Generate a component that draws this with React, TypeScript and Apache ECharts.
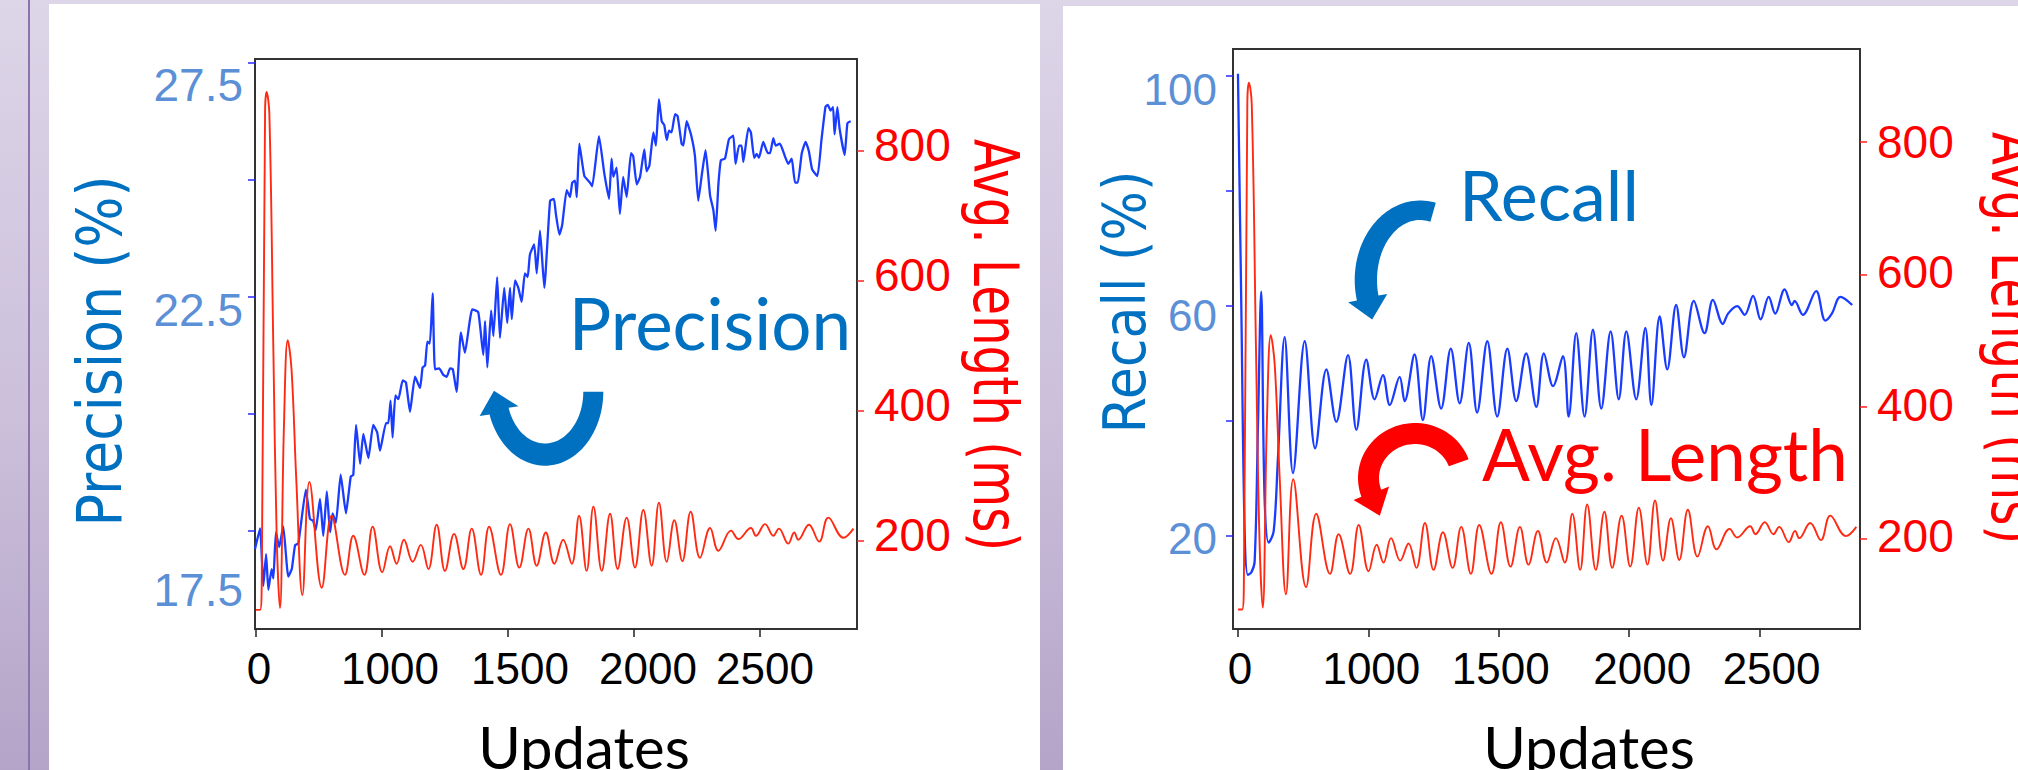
import React, { useEffect, useRef } from 'react';
import * as echarts from 'echarts';

// ---------- data ----------
const xTickValues = [500, 1000, 1500, 2000, 2500];
const xTickLabels = ['0', '1000', '1500', '2000', '2500'];
const precisionTicks = [17.5, 20, 22.5, 25, 27.5];
const precisionLabels = [17.5, 22.5, 27.5];
const recallTicks = [20, 40, 60, 80, 100];
const recallLabels = [20, 60, 100];
const lengthTicks = [200, 400, 600, 800];

// Avg. Length (ms) vs Updates (same run in both panels)
const avgLength: [number, number][] = [
  [500, 93], [516, 93], [523, 150], [536, 861], [542, 890], [553, 856], [569, 491], [582, 207], [595, 96],
  [611, 378], [626, 508], [641, 463], [660, 292], [684, 116], [712, 290], [761, 127], [800, 238], [853, 147],
  [886, 207], [930, 147], [963, 221], [1001, 151], [1032, 191], [1058, 164], [1087, 201], [1122, 167],
  [1154, 193], [1184, 156], [1217, 224], [1250, 153], [1286, 210], [1323, 156], [1356, 218], [1393, 147],
  [1425, 221], [1472, 147], [1508, 225], [1545, 158], [1581, 218], [1614, 161], [1650, 212], [1684, 164],
  [1719, 201], [1753, 164], [1782, 238], [1812, 153], [1839, 252], [1872, 153], [1905, 241], [1935, 156],
  [1971, 235], [2004, 158], [2037, 247], [2070, 161], [2099, 258], [2130, 167], [2160, 231], [2192, 168],
  [2225, 244], [2262, 173], [2302, 219], [2335, 184], [2385, 215], [2414, 202], [2464, 219], [2484, 207],
  [2520, 225], [2553, 207], [2575, 218], [2612, 195], [2636, 212], [2652, 201], [2694, 224], [2735, 198],
  [2771, 235], [2831, 204], [2871, 218],
];

// Precision (%) vs Updates
const precision: [number, number][] = [
  [496, 17.1], [516, 17.54], [529, 16.31], [540, 16.99], [549, 16.23], [562, 16.67], [569, 16.47], [579, 17.46],
  [592, 17.14], [608, 17.58], [628, 16.51], [642, 16.67], [655, 17.18], [668, 17.22], [698, 18.37], [714, 17.74],
  [727, 17.7], [737, 17.5], [754, 18.17], [767, 17.38], [781, 18.33], [794, 17.46], [804, 17.86], [817, 17.66],
  [836, 18.69], [857, 17.86], [876, 18.65], [886, 18.68], [897, 19.75], [913, 18.92], [926, 19.56], [946, 19.04],
  [965, 19.75], [981, 19.59], [992, 19.2], [1016, 19.79], [1025, 19.79], [1034, 20.27], [1042, 19.48], [1053, 20.38],
  [1065, 20.3], [1082, 20.7], [1095, 20.66], [1111, 20.03], [1131, 20.78], [1151, 20.54], [1161, 20.98], [1171, 21.02],
  [1180, 21.53], [1190, 21.49], [1201, 22.56], [1210, 20.94], [1227, 20.96], [1243, 20.82], [1257, 20.78], [1270, 20.96],
  [1281, 20.94], [1296, 20.46], [1313, 21.73], [1329, 21.29], [1358, 22.22], [1382, 22.16], [1402, 21.25], [1409, 21.97],
  [1418, 20.98], [1433, 22.2], [1442, 21.65], [1457, 22.91], [1468, 21.61], [1485, 22.68], [1497, 21.93], [1508, 22.68],
  [1515, 22.01], [1528, 22.84], [1541, 22.68], [1554, 22.38], [1567, 22.99], [1578, 22.91], [1587, 23.39], [1604, 23.61],
  [1614, 22.99], [1627, 23.9], [1644, 22.68], [1667, 24.54], [1682, 24.58], [1690, 24.26], [1704, 23.82], [1715, 24.02],
  [1733, 24.77], [1746, 24.62], [1755, 24.93], [1766, 24.97], [1773, 24.62], [1783, 25.76], [1803, 25.07], [1825, 24.93],
  [1834, 24.85], [1861, 25.92], [1882, 25.13], [1901, 24.58], [1911, 25.44], [1918, 25.05], [1931, 25.25], [1944, 24.26],
  [1957, 25.05], [1971, 24.62], [1988, 25.56], [1997, 25.49], [2011, 24.89], [2024, 25.05], [2041, 25.64], [2050, 25.17],
  [2061, 25.29], [2077, 26.0], [2087, 25.72], [2099, 26.71], [2110, 26.24], [2120, 26.16], [2130, 25.84], [2139, 26.04],
  [2149, 26.0], [2163, 26.39], [2173, 26.35], [2189, 25.76], [2196, 25.72], [2209, 26.24], [2226, 25.96], [2242, 25.49],
  [2255, 24.54], [2269, 25.09], [2284, 25.62], [2302, 24.65], [2315, 24.34], [2324, 23.9], [2335, 24.89], [2345, 25.41],
  [2361, 25.44], [2377, 25.86], [2394, 25.93], [2403, 25.33], [2417, 25.72], [2427, 25.72], [2434, 25.37], [2454, 26.09],
  [2464, 26.0], [2477, 25.46], [2487, 25.54], [2496, 25.46], [2513, 25.8], [2531, 25.56], [2540, 25.56], [2553, 25.88],
  [2562, 25.72], [2579, 25.76], [2599, 25.49], [2612, 25.33], [2626, 25.44], [2639, 24.93], [2650, 24.93], [2666, 25.56],
  [2681, 25.8], [2694, 25.6], [2707, 25.21], [2728, 25.07], [2744, 25.84], [2760, 26.55], [2769, 26.59], [2780, 26.47],
  [2790, 26.54], [2796, 25.96], [2807, 26.54], [2816, 26.08], [2836, 25.52], [2847, 26.2], [2860, 26.24],
];

// Recall (%) vs Updates
const recall: [number, number][] = [
  [500, 100.3], [513, 59.4], [526, 20.1], [538, 13.2], [551, 13.6], [564, 15.5], [577, 39.8], [589, 62.4],
  [602, 26.7], [618, 18.8], [637, 20.8], [653, 33.2], [679, 54.5], [711, 30.9], [756, 53.8], [796, 35.2],
  [839, 48.9], [877, 39.8], [922, 51.4], [954, 38.4], [992, 50.6], [1024, 43.7], [1056, 47.9], [1082, 42.7],
  [1120, 47.6], [1139, 43.4], [1177, 51.5], [1209, 40.1], [1241, 51.2], [1279, 42.1], [1316, 52.5], [1350, 43.0],
  [1385, 53.5], [1417, 41.4], [1456, 53.8], [1494, 40.7], [1533, 52.5], [1567, 43.4], [1605, 51.7], [1644, 42.4],
  [1673, 51.7], [1708, 46.0], [1746, 51.2], [1768, 40.7], [1797, 55.2], [1829, 40.7], [1861, 55.8], [1893, 42.1],
  [1929, 55.5], [1960, 43.7], [1989, 55.5], [2027, 43.7], [2062, 56.1], [2085, 42.7], [2117, 58.1], [2146, 48.9],
  [2180, 60.1], [2210, 51.0], [2248, 60.8], [2289, 55.2], [2321, 61.0], [2359, 56.8], [2379, 58.6], [2414, 59.9],
  [2443, 58.4], [2475, 61.7], [2504, 57.6], [2535, 61.5], [2560, 58.6], [2596, 62.8], [2624, 60.1], [2634, 60.8],
  [2666, 58.4], [2717, 62.5], [2752, 57.4], [2777, 58.6], [2810, 61.5], [2855, 60.1],
];

// ---------- styles ----------
const NUM_FONT = 'Liberation Sans';
const TITLE_FONT = 'DejaVu Sans';
const NOTE_FONT = 'Lato';
const BLUE_TXT = '#0070C0';
const RED_TXT = '#FF0000';
const LIGHT_BLUE = '#5b8fd6';
const LINE_BLUE = '#1a3cff';
const LINE_RED = '#ff2a12';

function xLabel(shifts: number[]) {
  const rich: Record<string, any> = {};
  shifts.forEach((s, i) => {
    rich['n' + i] = { padding: [0, 0, 0, 2 * s], fontSize: 44, color: '#000', fontFamily: NUM_FONT };
  });
  return {
    show: true,
    customValues: xTickValues,
    margin: 17,
    fontSize: 44,
    color: '#000',
    fontFamily: NUM_FONT,
    formatter: (v: number) => {
      const i = xTickValues.indexOf(v);
      return '{n' + i + '|' + (xTickLabels[i] ?? '') + '}';
    },
    rich,
  };
}

function yLabel(values: number[], padTop: number[], padBottom: number[], size: number, color: string, margin: number) {
  const rich: Record<string, any> = {};
  values.forEach((_, i) => {
    rich['n' + i] = { padding: [padTop[i] || 0, 0, padBottom[i] || 0, 0], fontSize: size, color, fontFamily: NUM_FONT };
  });
  return {
    show: true,
    customValues: values,
    margin,
    fontSize: size,
    color,
    fontFamily: NUM_FONT,
    formatter: (v: number) => {
      const i = values.indexOf(v);
      return '{n' + i + '|' + String(values[i]) + '}';
    },
    rich,
  };
}

function arrowPoints(
  cx: number, cy: number, rxO: number, ryO: number, rxI: number, ryI: number,
  a0: number, a1: number, headLen: number, headHalf: number,
) {
  const deg = Math.PI / 180;
  const steps = 48;
  const outer: number[][] = [];
  const inner: number[][] = [];
  for (let i = 0; i <= steps; i++) {
    const a = (a0 + ((a1 - a0) * i) / steps) * deg;
    outer.push([cx + rxO * Math.cos(a), cy + ryO * Math.sin(a)]);
    inner.push([cx + rxI * Math.cos(a), cy + ryI * Math.sin(a)]);
  }
  const a = a1 * deg;
  const dir = Math.sign(a1 - a0);
  const rxM = (rxO + rxI) / 2;
  const ryM = (ryO + ryI) / 2;
  const mx = cx + rxM * Math.cos(a);
  const my = cy + ryM * Math.sin(a);
  let tx = -rxM * Math.sin(a) * dir;
  let ty = ryM * Math.cos(a) * dir;
  const tl = Math.hypot(tx, ty);
  tx /= tl;
  ty /= tl;
  const nx = -ty;
  const ny = tx;
  const tip = [mx + tx * headLen, my + ty * headLen];
  const c1 = [mx + nx * headHalf, my + ny * headHalf];
  const c2 = [mx - nx * headHalf, my - ny * headHalf];
  const oEnd = outer[outer.length - 1];
  const d1 = Math.hypot(c1[0] - oEnd[0], c1[1] - oEnd[1]);
  const d2 = Math.hypot(c2[0] - oEnd[0], c2[1] - oEnd[1]);
  const co = d1 < d2 ? c1 : c2;
  const ci = d1 < d2 ? c2 : c1;
  return [...outer, co, tip, ci, ...inner.reverse()];
}

function rotText(text: string, x: number, y: number, rot: number, size: number, sx: number, fill: string) {
  return {
    type: 'text', x, y, rotation: rot, scaleX: sx, z: 10,
    style: { text, fill, fontSize: size, fontFamily: TITLE_FONT, align: 'center', verticalAlign: 'middle' },
  };
}

function noteText(text: string, x: number, y: number, size: number, fill: string) {
  return {
    type: 'text', x, y, z: 10,
    style: { text, fill, fontSize: size, fontFamily: NOTE_FONT, align: 'center', verticalAlign: 'middle' },
  };
}

const tickStyle = (color: string) => ({ show: true, length: 7, inside: false, lineStyle: { color, width: 1.5 } });

export default function App() {
  const ref = useRef<HTMLDivElement>(null);

  useEffect(() => {
    if (!ref.current) return;
    const chart = echarts.init(ref.current, undefined, { renderer: 'svg' });
    const option: any = {
      animation: false,
      backgroundColor: 'transparent',
      grid: [
        { left: 255, top: 59, width: 602, height: 570, show: true, borderColor: '#333', borderWidth: 2, backgroundColor: 'transparent', containLabel: false, outerBoundsMode: 'none' },
        { left: 1233, top: 49, width: 627, height: 580, show: true, borderColor: '#333', borderWidth: 2, backgroundColor: 'transparent', containLabel: false, outerBoundsMode: 'none' },
      ],
      xAxis: [
        {
          type: 'value', gridIndex: 0, min: 496, max: 2885,
          axisLine: { show: false, onZero: false },
          axisTick: { ...tickStyle('#222'), length: 8, customValues: xTickValues },
          axisLabel: xLabel([3, 8, 12, 14, 5]),
          splitLine: { show: false },
        },
        {
          type: 'value', gridIndex: 1, min: 481, max: 2885,
          axisLine: { show: false, onZero: false },
          axisTick: { ...tickStyle('#222'), length: 8, customValues: xTickValues },
          axisLabel: xLabel([2, 3, 2, 13, 12]),
          splitLine: { show: false },
        },
      ],
      yAxis: [
        {
          type: 'value', gridIndex: 0, position: 'left', min: 15.39, max: 27.57,
          axisLine: { show: false, onZero: false },
          axisTick: { ...tickStyle('#2a2aff'), customValues: precisionTicks },
          axisLabel: yLabel(precisionLabels, [120, 27, 46], [0, 0, 0], 46, LIGHT_BLUE, 12),
          splitLine: { show: false },
        },
        {
          type: 'value', gridIndex: 0, position: 'right', min: 63.6, max: 940.8,
          axisLine: { show: false, onZero: false },
          axisTick: { ...tickStyle('#ff2020'), customValues: lengthTicks },
          axisLabel: yLabel(lengthTicks, [0, 0, 0, 0], [10, 10, 10, 10], 46, RED_TXT, 17),
          splitLine: { show: false },
        },
        {
          type: 'value', gridIndex: 1, position: 'left', min: 3.78, max: 104.6,
          axisLine: { show: false, onZero: false },
          axisTick: { ...tickStyle('#2a2aff'), customValues: recallTicks },
          axisLabel: yLabel(recallLabels, [5, 19, 29], [0, 0, 0], 44, LIGHT_BLUE, 16),
          splitLine: { show: false },
        },
        {
          type: 'value', gridIndex: 1, position: 'right', min: 63.6, max: 940.8,
          axisLine: { show: false, onZero: false },
          axisTick: { ...tickStyle('#ff2020'), customValues: lengthTicks },
          axisLabel: yLabel(lengthTicks, [0, 0, 0, 0], [5, 3, 4, 0], 46, RED_TXT, 17),
          splitLine: { show: false },
        },
      ],
      series: [
        {
          name: 'Precision', type: 'line', xAxisIndex: 0, yAxisIndex: 0, data: precision,
          showSymbol: false, smooth: 0.15, lineStyle: { color: LINE_BLUE, width: 2.3 }, z: 2,
        },
        {
          name: 'Avg. Length', type: 'line', xAxisIndex: 0, yAxisIndex: 1, data: avgLength,
          showSymbol: false, smooth: 0.4, lineStyle: { color: LINE_RED, width: 1.9 }, z: 3,
        },
        {
          name: 'Recall', type: 'line', xAxisIndex: 1, yAxisIndex: 2, data: recall,
          showSymbol: false, smooth: 0.35, lineStyle: { color: LINE_BLUE, width: 2.3 }, z: 2,
        },
        {
          name: 'Avg. Length ', type: 'line', xAxisIndex: 1, yAxisIndex: 3, data: avgLength,
          showSymbol: false, smooth: 0.4, lineStyle: { color: LINE_RED, width: 1.9 }, z: 3,
        },
      ],
      graphic: [
        rotText('Precision (%)', 100, 351, Math.PI / 2, 62, 0.87, BLUE_TXT),
        rotText('Avg. Length (ms)', 996, 345, -Math.PI / 2, 62, 0.78, RED_TXT),
        rotText('Recall (%)', 1125, 302, Math.PI / 2, 58, 0.9, BLUE_TXT),
        rotText('Avg. Length (ms)', 2014, 338, -Math.PI / 2, 62, 0.78, RED_TXT),
        noteText('Updates', 584, 746, 58, '#000'),
        noteText('Updates', 1589, 746, 58, '#000'),
        noteText('Precision', 710, 322, 71, BLUE_TXT),
        noteText('Recall', 1549, 194, 70, BLUE_TXT),
        noteText('Avg. Length', 1665, 453, 71, RED_TXT),
        {
          type: 'polygon', z: 10,
          shape: { points: arrowPoints(545, 391.7, 58.3, 74, 38.3, 51.8, 0, 162, 21, 20) },
          style: { fill: BLUE_TXT },
        },
        {
          type: 'polygon', z: 10,
          shape: { points: arrowPoints(1420, 280, 65.3, 79.5, 43, 60, 284, 165, 22, 20) },
          style: { fill: BLUE_TXT },
        },
        {
          type: 'polygon', z: 10,
          shape: { points: arrowPoints(1415, 478, 57, 55, 36, 34, 340, 160, 24, 19) },
          style: { fill: RED_TXT },
        },
      ],
    };
    chart.setOption(option);
    return () => chart.dispose();
  }, []);

  return (
    <div
      style={{
        position: 'fixed', left: 0, top: 0, width: 2018, height: 770, overflow: 'hidden',
        background: 'linear-gradient(180deg, #ddd5e8 0%, #cbbfda 55%, #b4a4c8 100%)',
      }}
    >
      <div style={{ position: 'absolute', left: 28, top: 0, width: 2, height: 770, background: '#8a74ab' }} />
      <div style={{ position: 'absolute', left: 49, top: 4, width: 991, height: 766, background: '#ffffff' }} />
      <div style={{ position: 'absolute', left: 1063, top: 6, width: 955, height: 764, background: '#ffffff' }} />
      <div ref={ref} style={{ position: 'absolute', left: 0, top: 0, width: 2018, height: 770 }} />
    </div>
  );
}
